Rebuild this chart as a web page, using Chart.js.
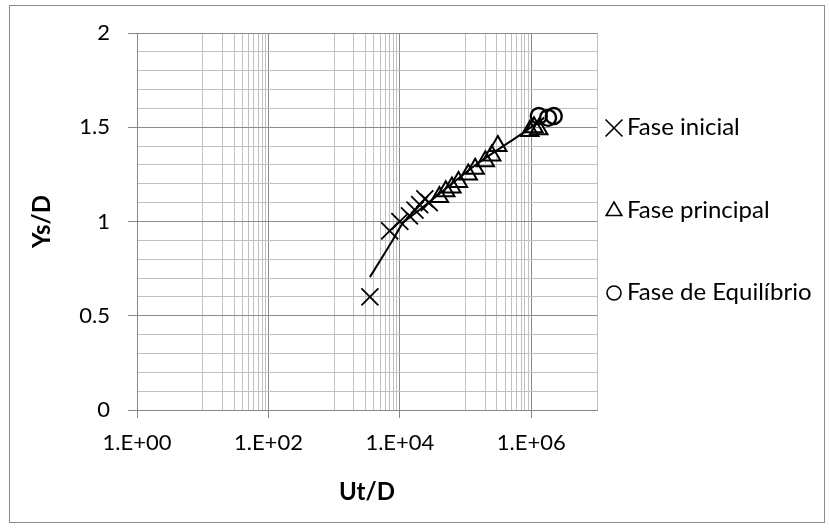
<!DOCTYPE html>
<html>
<head>
<meta charset="utf-8">
<script src="https://cdn.jsdelivr.net/npm/chart.js@4/dist/chart.umd.min.js"></script>
<style>
  body { margin: 0; background: #fff; }
</style>
</head>
<body>
<canvas id="chart" width="829" height="528"></canvas>
<script>
// data
const inicialX = [3500, 7000, 10000, 14000, 17000, 20000, 24000, 28000];
const inicialY = [0.60, 0.95, 1.00, 1.03, 1.06, 1.09, 1.12, 1.10];
const principalX = [40000, 50000, 62000, 78000, 110000, 140000, 200000, 250000, 310000, 950000, 1100000, 1300000];
const principalY = [1.13, 1.16, 1.18, 1.21, 1.25, 1.28, 1.32, 1.35, 1.40, 1.48, 1.50, 1.49];
const equilX = [1300000, 1800000, 2200000];
const equilY = [1.56, 1.55, 1.56];
const trendX = [3500, 7850, 11150, 20000, 137000, 743000, 1580000];
const trendY = [0.705, 0.903, 0.992, 1.062, 1.296, 1.469, 1.551];

const xTicks = [1, 10, 20, 30, 40, 50, 60, 70, 80, 90, 100,
  1000, 2000, 3000, 4000, 5000, 6000, 7000, 8000, 9000, 10000,
  1e5, 2e5, 3e5, 4e5, 5e5, 6e5, 7e5, 8e5, 9e5, 1e6, 1e7];
const xLabels = [1, 100, 10000, 1e6];
const yLabels = [0, 0.5, 1, 1.5, 2];
const legendLabels = ['Fase inicial', 'Fase principal', 'Fase de Equilíbrio'];

const FONT = 'Lato, "Open Sans", sans-serif';
const pts = (xs, ys) => xs.map((x, i) => ({x, y: ys[i]}));
const isMajorX = v => xLabels.some(l => Math.abs(l - v) < l * 1e-6);
const isMajorY = v => yLabels.some(l => Math.abs(l - v) < 1e-6);

const frame = {
  id: 'frame',
  afterDraw(chart) {
    const ctx = chart.ctx;
    const a = chart.chartArea;
    ctx.save();
    ctx.strokeStyle = '#8c8c8c';
    ctx.lineWidth = 1;
    ctx.strokeRect(9.5, 5.5, 815, 517);
    // axis titles
    ctx.fillStyle = '#000';
    ctx.font = 'bold 24px ' + FONT;
    ctx.textAlign = 'center';
    ctx.textBaseline = 'middle';
    ctx.fillText('Ut/D', (a.left + a.right) / 2, 492);
    ctx.translate(42, (a.top + a.bottom) / 2);
    ctx.rotate(-Math.PI / 2);
    ctx.fillText('Ys/D', 0, 0);
    ctx.restore();
    // legend
    ctx.save();
    const ys = [127, 210, 292];
    const sizes = [12, 9, 7];
    ctx.font = '24px ' + FONT;
    ctx.textBaseline = 'middle';
    ctx.textAlign = 'left';
    ctx.strokeStyle = '#000';
    chart.data.datasets.slice(0, 3).forEach((d, i) => {
      ctx.fillStyle = 'transparent';
      ctx.lineWidth = 1.6;
      Chart.helpers.drawPoint(ctx, {pointStyle: d.pointStyle, radius: sizes[i], borderWidth: 1.6}, 614, ys[i] + 1);
      ctx.fillStyle = '#000';
      ctx.fillText(legendLabels[i], 627, ys[i]);
    });
    ctx.restore();
  }
};

new Chart(document.getElementById('chart'), {
  type: 'scatter',
  data: {
    datasets: [
      {label: legendLabels[0], data: pts(inicialX, inicialY), pointStyle: 'crossRot', pointRadius: 12,
       borderColor: '#000', backgroundColor: 'transparent', borderWidth: 1.8},
      {label: legendLabels[1], data: pts(principalX, principalY), pointStyle: 'triangle', pointRadius: 10,
       borderColor: '#000', backgroundColor: 'transparent', borderWidth: 2},
      {label: legendLabels[2], data: pts(equilX, equilY), pointStyle: 'circle', pointRadius: 8,
       borderColor: '#000', backgroundColor: 'transparent', borderWidth: 2.4},
      {label: 'trend', data: pts(trendX, trendY), showLine: true, pointRadius: 0,
       borderColor: '#000', borderWidth: 2, tension: 0.2}
    ]
  },
  options: {
    responsive: false,
    animation: false,
    layout: {padding: {left: 0, right: 232, top: 33, bottom: 0}},
    plugins: {legend: {display: false}, tooltip: {enabled: false}},
    scales: {
      x: {
        type: 'logarithmic', min: 1, max: 1e7,
        afterBuildTicks: s => { s.ticks = xTicks.map(v => ({value: v})); },
        afterFit: s => { s.height = 118; },
        border: {color: '#868686'},
        grid: {
          color: c => isMajorX(c.tick.value) ? '#8c8c8c' : '#c0c0c0',
          tickColor: c => isMajorX(c.tick.value) ? '#868686' : 'transparent',
          tickLength: 8
        },
        ticks: {
          autoSkip: false, maxRotation: 0, padding: 12, color: '#000',
          font: {family: FONT, size: 22},
          callback: v => isMajorX(v) ? '1.E+' + String(Math.round(Math.log10(v))).padStart(2, '0') : ''
        }
      },
      y: {
        min: 0, max: 2,
        ticks: {
          stepSize: 0.1, autoSkip: false, padding: 18, color: '#000',
          font: {family: FONT, size: 22},
          callback: v => isMajorY(v) ? String(Math.round(v * 10) / 10) : ''
        },
        afterFit: s => { s.width = 137; },
        border: {color: '#868686'},
        grid: {
          color: c => isMajorY(c.tick.value) ? '#8c8c8c' : '#c0c0c0',
          tickColor: c => isMajorY(c.tick.value) ? '#868686' : 'transparent',
          tickLength: 9
        }
      }
    }
  },
  plugins: [frame]
});
</script>
</body>
</html>
